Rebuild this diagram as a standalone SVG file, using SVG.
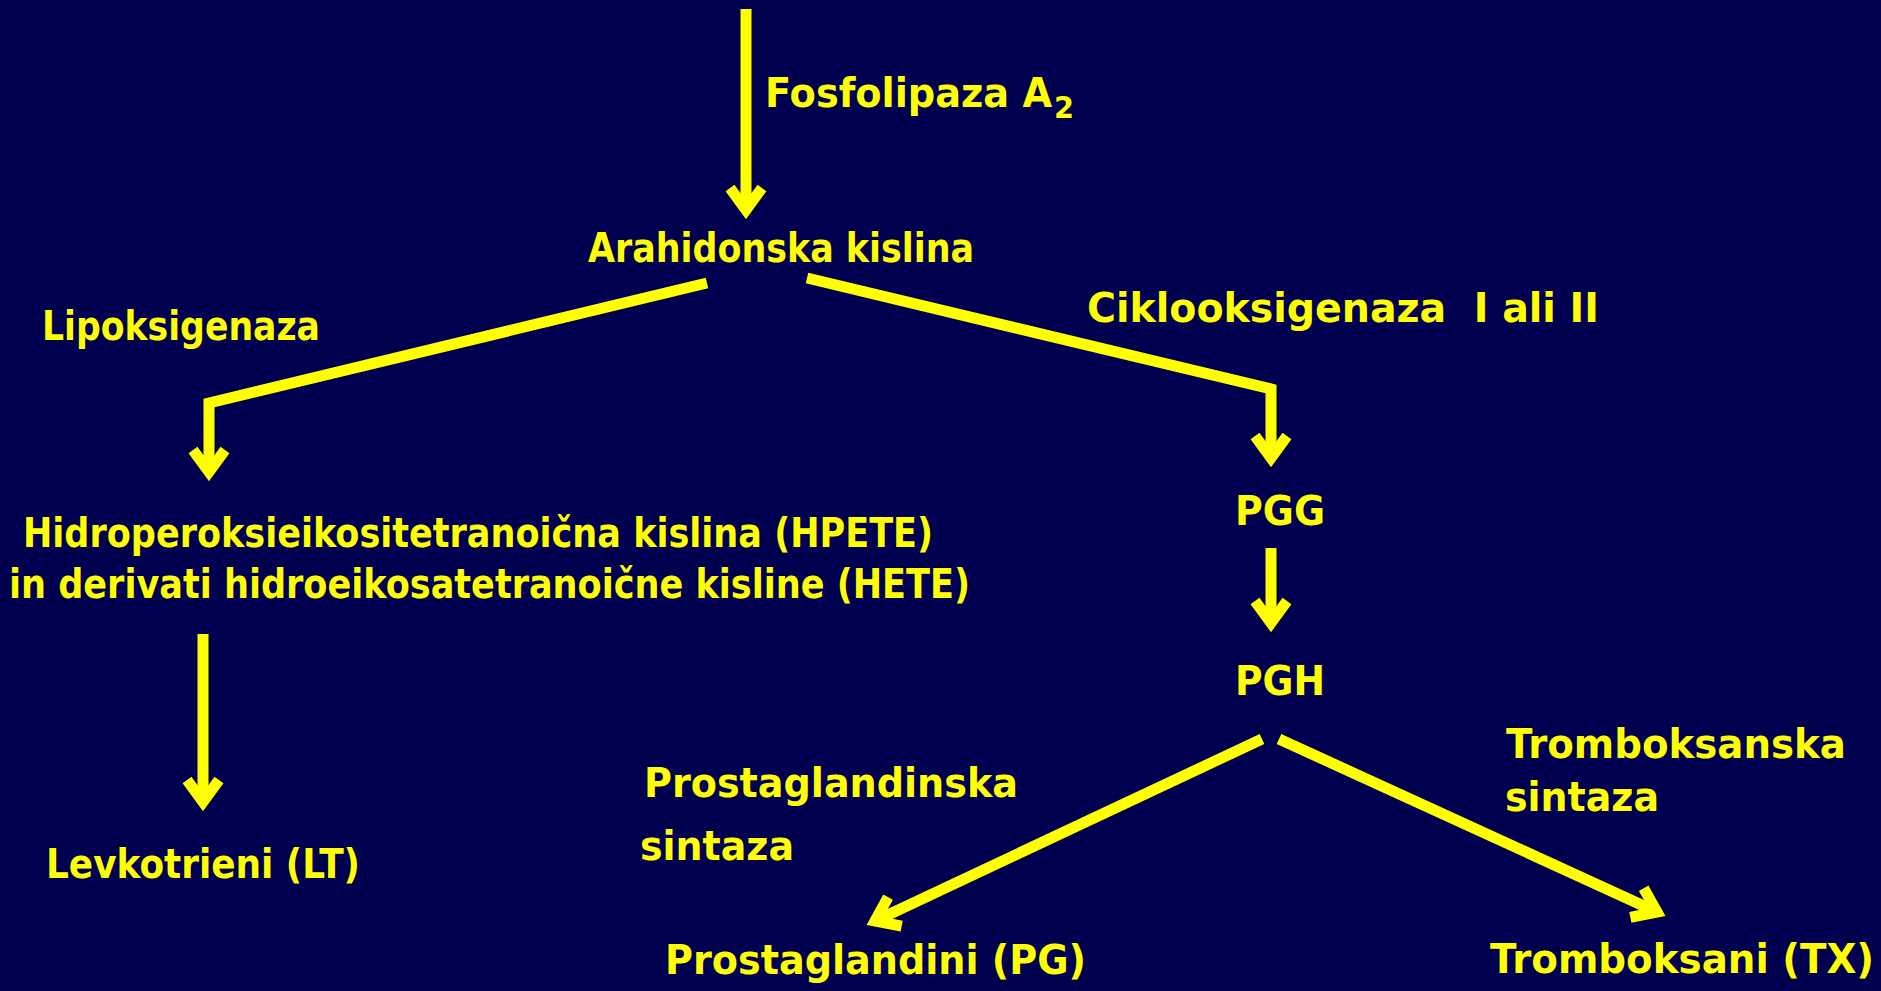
<svg xmlns="http://www.w3.org/2000/svg" width="1881" height="991" viewBox="0 0 1881 991">
<style>
.t{font-family:"DejaVu Sans","Verdana",sans-serif;font-weight:bold;font-size:40px;fill:#ffff00}
.c{fill:none;stroke:#ffff00;stroke-width:11;stroke-linejoin:miter;stroke-linecap:butt}
</style>
<defs>
<marker id="ah" markerUnits="userSpaceOnUse" markerWidth="80" markerHeight="80" viewBox="-40 -40 80 80" refX="0" refY="0" orient="auto" overflow="visible">
<path d="M-22,-16 L0,0 L-22,16" fill="none" stroke="#ffff00" stroke-width="11" stroke-linejoin="miter"/>
</marker>
</defs>
<rect x="0" y="0" width="1881" height="991" fill="#000050"/>
<g id="connectors">
<path class="c" d="M746,9 L746,210" marker-end="url(#ah)"/>
<path class="c" d="M707,283 L209,403 L209,472" marker-end="url(#ah)"/>
<path class="c" d="M807,278 L1271,389 L1271,458" marker-end="url(#ah)"/>
<path class="c" d="M1271,548 L1271,623" marker-end="url(#ah)"/>
<path class="c" d="M203,634 L203,802" marker-end="url(#ah)"/>
<path class="c" d="M1262,739 L875,921" marker-end="url(#ah)"/>
<path class="c" d="M1279,739 L1657,912" marker-end="url(#ah)"/>
</g>
<g id="label-fosfolipaza"><text class="t" x="765" y="107" font-size="41" textLength="309" lengthAdjust="spacingAndGlyphs">Fosfolipaza A<tspan font-size="30" dy="11" dx="2">2</tspan></text></g>
<g id="node-arahidonska"><text class="t" x="588" y="262" textLength="386" lengthAdjust="spacingAndGlyphs">Arahidonska kislina</text></g>
<g id="label-lipoksigenaza"><text class="t" x="42" y="340" textLength="278" lengthAdjust="spacingAndGlyphs">Lipoksigenaza</text></g>
<g id="label-ciklooksigenaza"><text class="t" x="1087" y="322" style="white-space:pre" xml:space="preserve" textLength="512" lengthAdjust="spacingAndGlyphs">Ciklooksigenaza  I ali II</text></g>
<g id="node-hpete">
<text class="t" x="23" y="547" textLength="910" lengthAdjust="spacingAndGlyphs">Hidroperoksieikositetranoična kislina (HPETE)</text>
<text class="t" x="9" y="598" textLength="961" lengthAdjust="spacingAndGlyphs">in derivati hidroeikosatetranoične kisline (HETE)</text>
</g>
<g id="node-pgg"><text class="t" x="1235" y="525" textLength="90" lengthAdjust="spacingAndGlyphs">PGG</text></g>
<g id="node-pgh"><text class="t" x="1235" y="695" textLength="90" lengthAdjust="spacingAndGlyphs">PGH</text></g>
<g id="node-levkotrieni"><text class="t" x="46" y="878" textLength="314" lengthAdjust="spacingAndGlyphs">Levkotrieni (LT)</text></g>
<g id="label-prostaglandinska">
<text class="t" x="644" y="797" textLength="374" lengthAdjust="spacingAndGlyphs">Prostaglandinska</text>
<text class="t" x="640" y="860" textLength="154" lengthAdjust="spacingAndGlyphs">sintaza</text>
</g>
<g id="label-tromboksanska">
<text class="t" x="1506" y="758" textLength="340" lengthAdjust="spacingAndGlyphs">Tromboksanska</text>
<text class="t" x="1505" y="811" textLength="154" lengthAdjust="spacingAndGlyphs">sintaza</text>
</g>
<g id="node-prostaglandini"><text class="t" x="665" y="974" textLength="421" lengthAdjust="spacingAndGlyphs">Prostaglandini (PG)</text></g>
<g id="node-tromboksani"><text class="t" x="1490" y="973" textLength="384" lengthAdjust="spacingAndGlyphs">Tromboksani (TX)</text></g>
</svg>
